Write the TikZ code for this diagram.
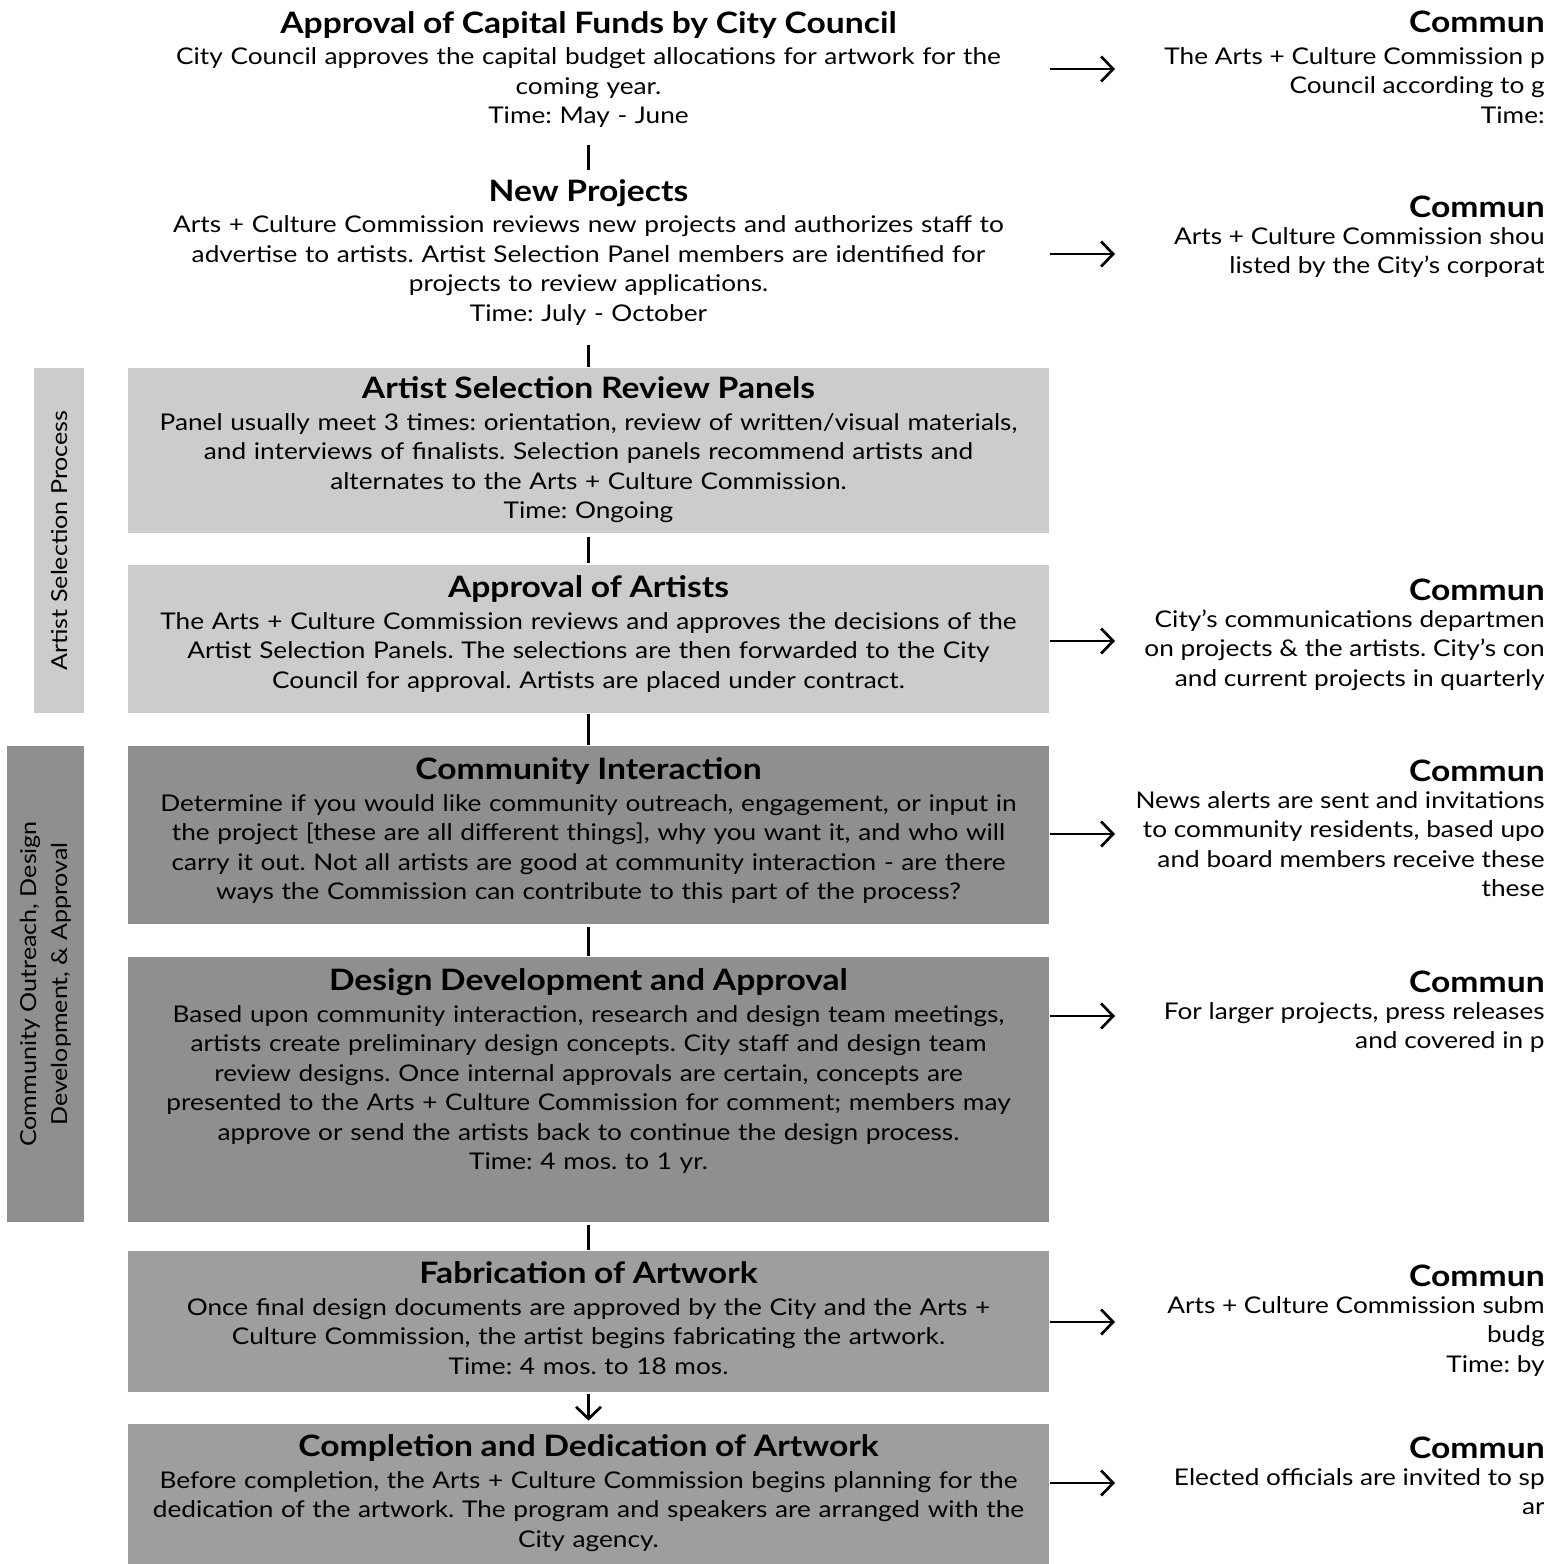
\documentclass[tikz,border=0pt]{standalone}
\usepackage{fontspec}
\setmainfont{Lato}[FakeStretch=1.14]
\usetikzlibrary{arrows.meta, positioning}

\definecolor{lightpanel}{gray}{0.80}
\definecolor{darkpanel}{gray}{0.56}
\definecolor{midpanel}{gray}{0.62}

\newcommand{\stagehead}[1]{{\fontsize{29.5}{33}\selectfont\bfseries #1}}

\begin{document}
\frenchspacing
\begin{tikzpicture}[
        x = 1pt, y = -1pt, % pixel grid, y runs down
        > = {Straight Barb[length=12pt, width=25pt]}, % open arrow head
        line width = 2.7pt, % connector weight
        every node/.style = {inner sep = 0pt},
        stage/.style = {align = center, text width = 921pt,
            font = \fontsize{23}{29.5}\selectfont},
        panel/.style = {minimum width = 921pt},
        comm/.style = {align = right, anchor = north east,
            font = \fontsize{23}{29.5}\selectfont},
        side/.style = {rotate = 90, align = center,
            font = \fontsize{22}{31}\selectfont}
    ]

    \useasboundingbox (0,0) rectangle (1543,1564);
    \clip (0,0) rectangle (1543,1564);

    % phase bands on the left
    \node[side, fill = lightpanel, minimum width = 345pt, minimum height = 50pt]
        (selband) at (59,540.5) {Artist Selection Process};
    \node[side, fill = darkpanel, minimum width = 476pt, minimum height = 77pt]
        (outband) at (45.5,984) {Community Outreach, Design\\Development, \& Approval};

    % main column
    \node[stage, anchor = north] (capital) at (588.5,10) {\stagehead{Approval of Capital Funds by City Council}\\[2pt]
        City Council approves the capital budget allocations for artwork for the\\
        coming year.\\
        Time: May - June};
    \node[stage, anchor = north] (newproj) at (588.5,178) {\stagehead{New Projects}\\[2pt]
        Arts + Culture Commission reviews new projects and authorizes staff to\\
        advertise to artists. Artist Selection Panel members are identified for\\
        projects to review applications.\\
        Time: July - October};

    \node[panel, fill = lightpanel, minimum height = 165pt] (panels) at (588.5,450.5) {};
    \node[panel, fill = lightpanel, minimum height = 148pt] (approval) at (588.5,639) {};
    \node[panel, fill = darkpanel, minimum height = 178pt] (interaction) at (588.5,835) {};
    \node[panel, fill = darkpanel, minimum height = 265pt] (design) at (588.5,1089.5) {};
    \node[panel, fill = midpanel, minimum height = 141pt] (fabrication) at (588.5,1321.5) {};
    \node[panel, fill = midpanel, minimum height = 150pt] (completion) at (588.5,1499) {};

    \node[stage, below = 9pt of panels.north] (panelstext) {\stagehead{Artist Selection Review Panels}\\[2pt]
        Panel usually meet 3 times: orientation, review of written/visual materials,\\
        and interviews of finalists. Selection panels recommend artists and\\
        alternates to the Arts + Culture Commission.\\
        Time: Ongoing};
    \node[stage, below = 11pt of approval.north] (approvaltext) {\stagehead{Approval of Artists}\\[2pt]
        The Arts + Culture Commission reviews and approves the decisions of the\\
        Artist Selection Panels. The selections are then forwarded to the City\\
        Council for approval. Artists are placed under contract.};
    \node[stage, below = 12pt of interaction.north] (interactiontext) {\stagehead{Community Interaction}\\[2pt]
        Determine if you would like community outreach, engagement, or input in\\
        the project [these are all different things], why you want it, and who will\\
        carry it out. Not all artists are good at community interaction - are there\\
        ways the Commission can contribute to this part of the process?};
    \node[stage, below = 12pt of design.north] (designtext) {\stagehead{Design Development and Approval}\\[2pt]
        Based upon community interaction, research and design team meetings,\\
        artists create preliminary design concepts. City staff and design team\\
        review designs. Once internal approvals are certain, concepts are\\
        presented to the Arts + Culture Commission for comment; members may\\
        approve or send the artists back to continue the design process.\\
        Time: 4 mos. to 1 yr.};
    \node[stage, below = 11pt of fabrication.north] (fabricationtext) {\stagehead{Fabrication of Artwork}\\[2pt]
        Once final design documents are approved by the City and the Arts +\\
        Culture Commission, the artist begins fabricating the artwork.\\
        Time: 4 mos. to 18 mos.};
    \node[stage, below = 11pt of completion.north] (completiontext) {\stagehead{Completion and Dedication of Artwork}\\[2pt]
        Before completion, the Arts + Culture Commission begins planning for the\\
        dedication of the artwork. The program and speakers are arranged with the\\
        City agency.};

    % communication column, cut at the page edge
    \node[comm] (comm1) at (1546,10) {\stagehead{Commun}\\[2pt]
        The Arts + Culture Commission p\\ Council according to g\\ Time:};
    \node[comm] (comm2) at (1546,195) {\stagehead{Commun}\\[-3pt]
        Arts + Culture Commission shou\\ listed by the City's corporat};
    \node[comm] (comm3) at (1546,578) {\stagehead{Commun}\\[-3pt]
        City's communications departmen\\ on projects \& the artists. City's con\\
        and current projects in quarterly};
    \node[comm] (comm4) at (1546,759) {\stagehead{Commun}\\[-3pt]
        News alerts are sent and invitations\\ to community residents, based upo\\
        and board members receive these\\ these};
    \node[comm] (comm5) at (1546,970) {\stagehead{Commun}\\[-3pt]
        For larger projects, press releases\\ and covered in p};
    \node[comm] (comm6) at (1546,1264) {\stagehead{Commun}\\[-3pt]
        Arts + Culture Commission subm\\ budg\\ Time: by};
    \node[comm] (comm7) at (1546,1436) {\stagehead{Commun}\\[-3pt]
        Elected officials are invited to sp\\ ar};

    % arrow tips on the right
    \coordinate (t1) at (1115,69);
    \coordinate (t2) at (1115,254);
    \coordinate (t3) at (1115,641);
    \coordinate (t4) at (1115,834);
    \coordinate (t5) at (1115,1016);
    \coordinate (t6) at (1115,1322);
    \coordinate (t7) at (1115,1483);

    % flow down the main column
    \draw[shorten <= 16pt, shorten >= 8pt] (capital.south) -- (newproj.north);
    \draw[shorten <= 18pt] (newproj.south) -- (panels.north);
    \draw[shorten <= 3pt, shorten >= 1pt] (panels) -- (approval);
    \draw (approval) -- (interaction);
    \draw[shorten <= 2pt] (interaction) -- (design);
    \draw[shorten <= 2pt] (design) -- (fabrication);
    \draw[->, shorten <= 1pt, shorten >= 2pt] (fabrication) -- (completion);

    % links to communication steps
    \draw[->] (capital.east |- t1) -- (t1);
    \draw[->] (newproj.east |- t2) -- (t2);
    \draw[->] (approval.east |- t3) -- (t3);
    \draw[->] (interaction.east |- t4) -- (t4);
    \draw[->] (design.east |- t5) -- (t5);
    \draw[->] (fabrication.east |- t6) -- (t6);
    \draw[->] (completion.east |- t7) -- (t7);

\end{tikzpicture}
\end{document}
